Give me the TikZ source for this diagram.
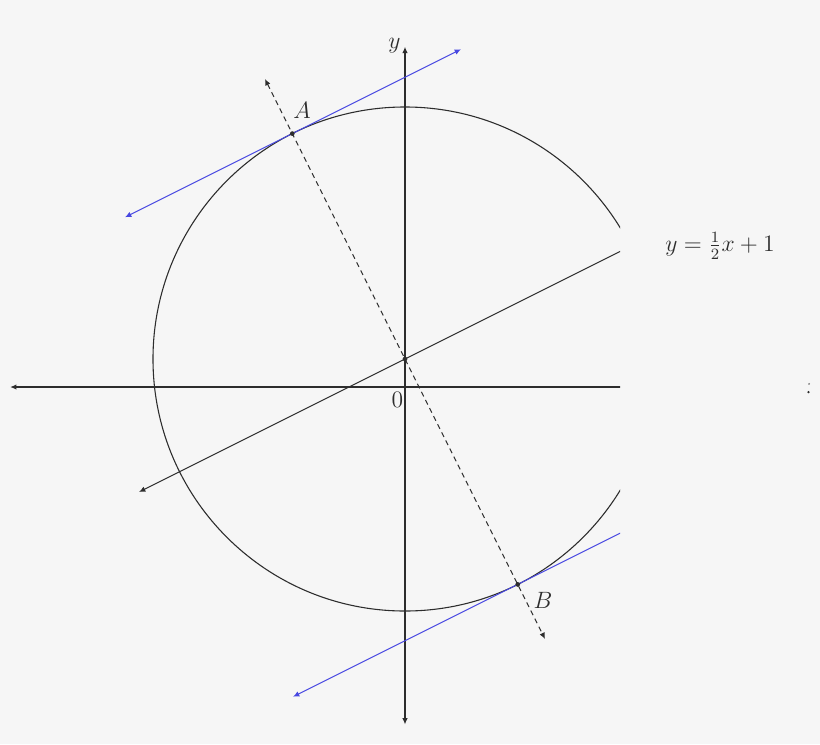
\documentclass[tikz,border=0pt]{standalone}
\usetikzlibrary{arrows.meta}
\definecolor{bg}{RGB}{246,246,246}
\definecolor{tanblue}{RGB}{72,72,225}
\definecolor{ink}{RGB}{45,45,45}
\begin{document}
\begin{tikzpicture}[x=0.5cm,y=0.5cm,line width=0.55pt,
  tipl/.style={{Latex[length=3.2pt,width=2.8pt]}-},
  tipr/.style={-{Latex[length=3.2pt,width=2.8pt]}},
  tipb/.style={{Latex[length=3.2pt,width=2.8pt]}-{Latex[length=3.2pt,width=2.8pt]}},
  axis/.style={draw=ink},
  curve/.style={draw=ink},
  tangent/.style={draw=tanblue},
  normal/.style={draw=ink,dash pattern=on 2.6pt off 2pt},
  pt/.style={circle,fill=ink,inner sep=0pt,minimum size=2.4pt},
  lbl/.style={text=ink,font=\large}]
\fill[bg] (-14.464,-12.75) rectangle (14.821,13.821);
\useasboundingbox (-14.464,-12.75) rectangle (14.821,13.821);
% coordinates
\coordinate (O) at (0,0);
\coordinate (C) at (0,1);
\coordinate (xl) at (-14.1,0);
\coordinate (xr) at (9,0);
\coordinate (yb) at (0,-12.05);
\coordinate (yt) at (0,12.15);
\coordinate (L1) at (-9.5,-3.75);
\coordinate (L2) at (9,5.5);
\coordinate (A) at (-4.0249,9.0498);
\coordinate (B) at (4.0249,-7.0498);
\coordinate (D1) at (-5,11);
\coordinate (D2) at (5,-9);
\coordinate (TA1) at (-10,6.0623);
\coordinate (TA2) at (2,12.0623);
\coordinate (TB1) at (-4,-11.0623);
\coordinate (TB2) at (9,-4.5623);
\begin{scope}
\clip (-15,-13) rectangle (7.68,14);
\draw[axis,tipl] (xl) -- (xr);
\draw[axis,tipb] (yb) -- (yt);
\draw[curve] (C) circle[radius=9];
\draw[curve,tipl] (L1) -- (L2);
\draw[normal,tipb] (D1) -- (D2);
\draw[tangent,tipb] (TA1) -- (TA2);
\draw[tangent,tipl] (TB1) -- (TB2);
\node[pt] (pA) at (A) {};
\node[pt] (pB) at (B) {};
\node[pt] (pC) at (C) {};
\end{scope}
\node[lbl] (lA) at (-3.68,9.86) {$A$};
\node[lbl] (lB) at (4.93,-7.61) {$B$};
\node[lbl] (l0) at (-0.27,-0.45) {$0$};
\node[lbl] (ly) at (-0.38,12.2) {$y$};
\node[lbl] (leq) at (11.25,5.04) {$y=\frac{1}{2}x+1$};
\fill[ink!70] (14.43,0.11) circle[radius=0.035];
\fill[ink] (14.41,-0.18) circle[radius=0.045];
\end{tikzpicture}
\end{document}
